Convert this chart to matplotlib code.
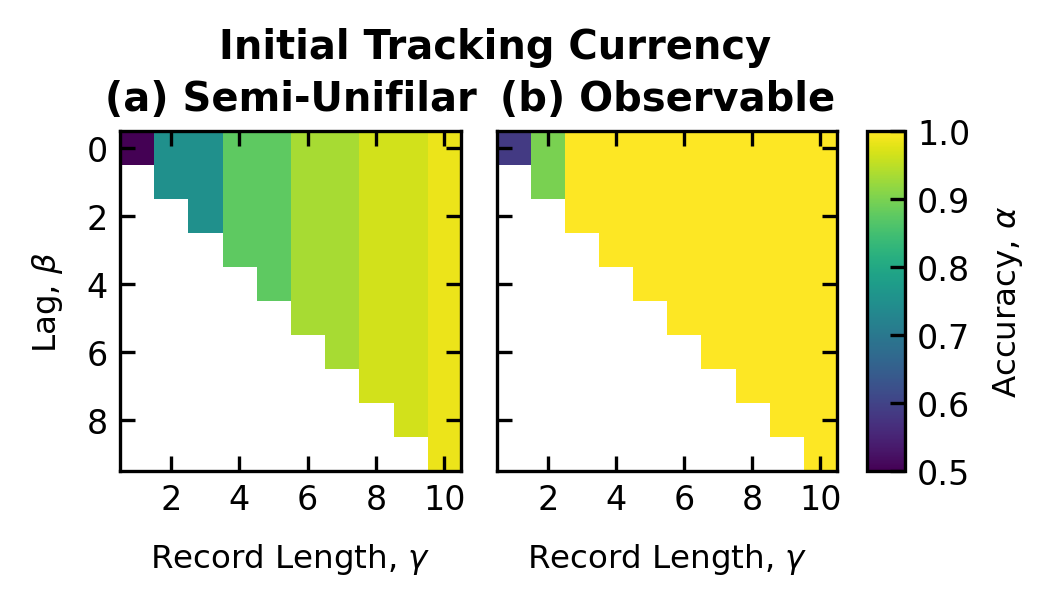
import numpy as np
import matplotlib
import matplotlib.pyplot as plt

matplotlib.rcParams['font.family'] = 'DejaVu Sans'
matplotlib.rcParams['font.size'] = 8
matplotlib.rcParams['mathtext.fontset'] = 'dejavusans'

# record length gamma (columns) and lag beta (rows)
record_lengths = [1, 2, 3, 4, 5, 6, 7, 8, 9, 10]
lags = [0, 1, 2, 3, 4, 5, 6, 7, 8, 9]

# accuracy per record length (same for every valid lag)
acc_semi_unifilar = [0.50, 0.75, 0.75, 0.875, 0.875, 0.935, 0.935, 0.965, 0.965, 0.985]
acc_observable = [0.585, 0.90, 1.0, 1.0, 1.0, 1.0, 1.0, 1.0, 1.0, 1.0]


def make_grid(acc):
    grid = np.full((len(lags), len(record_lengths)), np.nan)
    for i, b in enumerate(lags):
        for j, g in enumerate(record_lengths):
            if b < g:
                grid[i, j] = acc[j]
    return np.ma.masked_invalid(grid)


fig = plt.figure(figsize=(3.51, 2.0133), dpi=300)
ax1 = fig.add_axes([0.114, 0.219, 0.324, 0.562])
ax2 = fig.add_axes([0.472, 0.219, 0.323, 0.562])
cax = fig.add_axes([0.823, 0.219, 0.036, 0.562])

extent = [record_lengths[0] - 0.5, record_lengths[-1] + 0.5,
          lags[-1] + 0.5, lags[0] - 0.5]

for ax, acc, title in [(ax1, acc_semi_unifilar, '(a) Semi-Unifilar'),
                       (ax2, acc_observable, '(b) Observable')]:
    im = ax.imshow(make_grid(acc), cmap='viridis', vmin=0.5, vmax=1.0,
                   extent=extent, aspect='auto', interpolation='nearest')
    ax.set_xticks([2, 4, 6, 8, 10])
    ax.set_yticks([0, 2, 4, 6, 8])
    ax.tick_params(direction='in', top=True, right=True, length=3.5, width=0.8,
                   labelsize=8, pad=3)
    for s in ax.spines.values():
        s.set_linewidth(0.8)
    ax.set_xlabel(r'Record Length, $\gamma$', fontsize=7.8, labelpad=6)
    ax.set_title(title, fontsize=9.6, fontweight='bold', pad=5)

ax1.set_ylabel(r'Lag, $\beta$', fontsize=7.8, labelpad=5)
ax2.set_yticklabels([])

cb = fig.colorbar(im, cax=cax)
cb.set_ticks([0.5, 0.6, 0.7, 0.8, 0.9, 1.0])
cb.ax.tick_params(direction='in', length=3.5, width=0.8, labelsize=8, pad=3)
cb.outline.set_linewidth(0.8)
cb.set_label(r'Accuracy, $\alpha$', fontsize=7.8, labelpad=5)

fig.text(0.47, 0.92, 'Initial Tracking Currency', ha='center', va='center',
         fontsize=9.6, fontweight='bold')

fig.savefig('out.png', dpi=300)
